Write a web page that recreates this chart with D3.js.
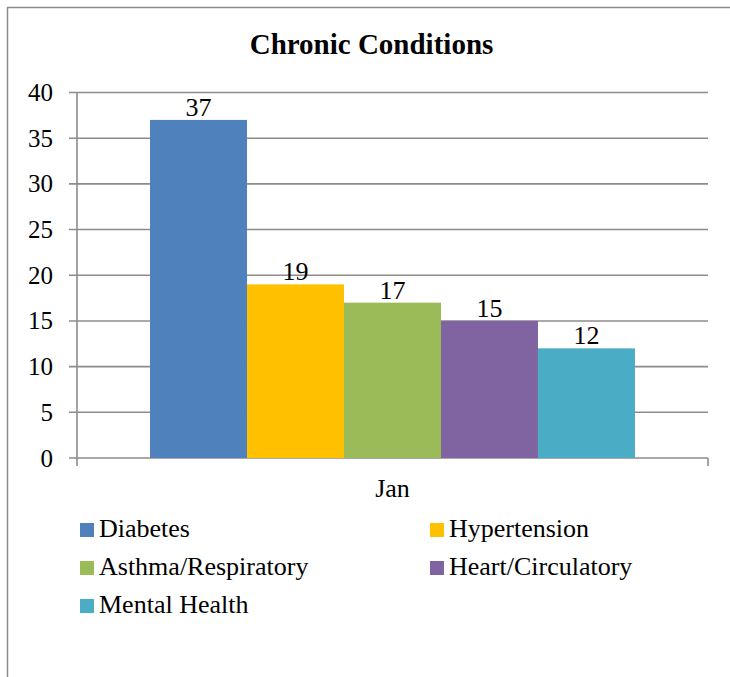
<!DOCTYPE html>
<html>
<head>
<meta charset="utf-8">
<script src="https://cdn.jsdelivr.net/npm/d3@7"></script>
<style>
  body { margin: 0; background: #fff; }
</style>
</head>
<body>
<svg></svg>
<script>
var width = 730;
var height = 677;

// chart data
var categories = ["Jan"];
var series = ["Diabetes", "Hypertension", "Asthma/Respiratory", "Heart/Circulatory", "Mental Health"];
var values = [37, 19, 17, 15, 12];
var colors = ["#4F81BD", "#FFC000", "#9BBB59", "#8064A2", "#4BACC6"];
var yTicks = [0, 5, 10, 15, 20, 25, 30, 35, 40];

var fontFam = "'Liberation Serif'";

var svg = d3.select("svg")
    .attr("width", width)
    .attr("height", height)
    .style("display", "block");

// frame (only left + top visible)
svg.append("line")
    .attr("x1", 7.5).attr("x2", 7.5).attr("y1", 7).attr("y2", height)
    .attr("stroke", "#8c8c8c").attr("stroke-width", 1.5);
svg.append("line")
    .attr("x1", 7).attr("x2", width).attr("y1", 7.5).attr("y2", 7.5)
    .attr("stroke", "#8c8c8c").attr("stroke-width", 1.5);

// title
svg.append("text")
    .attr("x", 371.5)
    .attr("y", 54)
    .attr("text-anchor", "middle")
    .style("font-family", fontFam)
    .style("font-size", "29px")
    .style("font-weight", "bold")
    .text("Chronic Conditions");

var plot = { left: 77, right: 708, top: 92.5, bottom: 458 };

var y = d3.scaleLinear()
    .domain([0, 40])
    .range([plot.bottom, plot.top]);

var x0 = d3.scaleBand()
    .domain(categories)
    .range([plot.left, plot.right]);

var x1 = d3.scaleBand()
    .domain(series)
    .range([0, x0.bandwidth()])
    .paddingInner(0)
    .paddingOuter(0.753);

// gridlines
var g = svg.append("g");
g.selectAll(".grid")
  .data(yTicks)
  .enter().append("line")
    .attr("class", "grid")
    .attr("x1", plot.left - 8)
    .attr("x2", plot.right)
    .attr("y1", function(d) { return y(d); })
    .attr("y2", function(d) { return y(d); })
    .attr("stroke", "#8c8c8c")
    .attr("stroke-width", 1.6);

// y axis line
g.append("line")
    .attr("x1", plot.left).attr("x2", plot.left)
    .attr("y1", plot.top).attr("y2", plot.bottom + 8)
    .attr("stroke", "#8c8c8c").attr("stroke-width", 1.6);

// x axis end tick
g.append("line")
    .attr("x1", plot.right).attr("x2", plot.right)
    .attr("y1", plot.bottom).attr("y2", plot.bottom + 8)
    .attr("stroke", "#8c8c8c").attr("stroke-width", 1.6);

// y tick labels
g.selectAll(".ylab")
  .data(yTicks)
  .enter().append("text")
    .attr("class", "ylab")
    .attr("x", 53)
    .attr("y", function(d) { return y(d); })
    .attr("dy", "0.34em")
    .attr("text-anchor", "end")
    .style("font-family", fontFam)
    .style("font-size", "25px")
    .text(function(d) { return d; });

// bars
var rows = series.map(function(s, i) {
  return { name: s, value: values[i], color: colors[i], cat: categories[0] };
});

var bars = svg.append("g");
bars.selectAll("rect")
  .data(rows)
  .enter().append("rect")
    .attr("x", function(d) { return x0(d.cat) + x1(d.name); })
    .attr("y", function(d) { return y(d.value); })
    .attr("width", x1.bandwidth())
    .attr("height", function(d) { return y(0) - y(d.value); })
    .style("fill", function(d) { return d.color; });

// data labels
bars.selectAll(".vlab")
  .data(rows)
  .enter().append("text")
    .attr("class", "vlab")
    .attr("x", function(d) { return x0(d.cat) + x1(d.name) + x1.bandwidth() / 2; })
    .attr("y", function(d) { return y(d.value) - 4; })
    .attr("text-anchor", "middle")
    .style("font-family", fontFam)
    .style("font-size", "26px")
    .text(function(d) { return d.value; });

// category label
svg.selectAll(".xlab")
  .data(categories)
  .enter().append("text")
    .attr("class", "xlab")
    .attr("x", function(d) { return x0(d) + x0.bandwidth() / 2; })
    .attr("y", 497)
    .attr("text-anchor", "middle")
    .style("font-family", fontFam)
    .style("font-size", "26px")
    .text(function(d) { return d; });

// legend, two columns
var legend = svg.append("g");
var item = legend.selectAll(".leg")
  .data(rows)
  .enter().append("g")
    .attr("class", "leg")
    .attr("transform", function(d, i) {
      var col = i % 2, row = Math.floor(i / 2);
      return "translate(" + (80 + col * 350) + "," + (530 + row * 38) + ")";
    });

item.append("rect")
    .attr("x", 0).attr("y", -7)
    .attr("width", 14).attr("height", 14)
    .style("fill", function(d) { return d.color; });

item.append("text")
    .attr("x", 19)
    .attr("y", 7)
    .style("font-family", fontFam)
    .style("font-size", "26px")
    .text(function(d) { return d.name; });
</script>
</body>
</html>
